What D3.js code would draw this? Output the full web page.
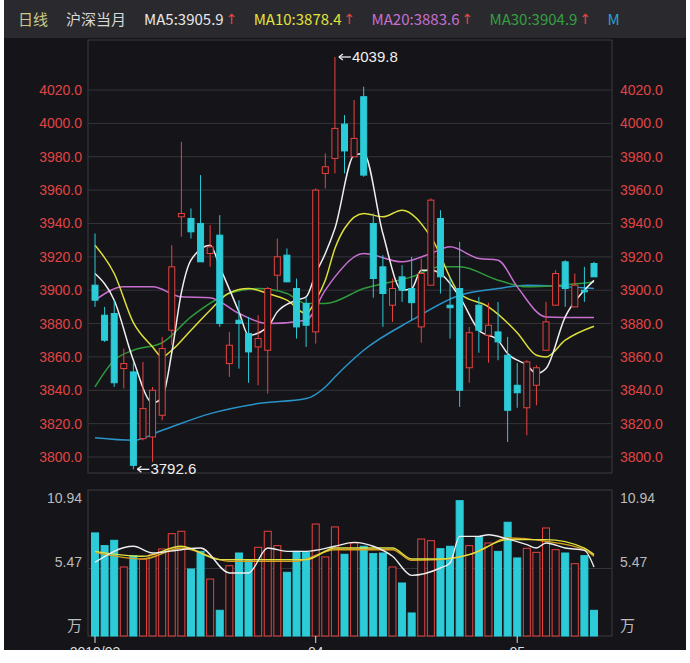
<!DOCTYPE html>
<html><head><meta charset="utf-8">
<script src="https://cdn.jsdelivr.net/npm/d3@7/dist/d3.min.js"></script>
<style>body{margin:0;background:#fff}svg{display:block}</style>
</head><body><svg id="c" width="690" height="663"></svg>
<script>
// OHLC per day
var opens  = [3903,3885,3886,3853,3851,3811,3812,3825,3876,3944,3943,3940,3922,3933,3856,3882,3874,3866,3864,3909,3921,3901,3892,3875,3970,3979,
              3999.6,3980,4016,3940,3914,3891,3908,3901,3878,3903,3943,3891,3901,3853.5,3891,3873,3875,3861,3843,3829.5,3843,3864,3891,3917,3890,3900,3916];
var closes = [3894,3870,3844.5,3856,3795,3829,3840,3865,3914,3946,3935,3917,3926,3880,3867,3880,3863,3871,3901,3920,3905,3878,3879,3960,3974,3997,
              3983.5,3991,3969,3907,3898,3901,3900,3892.5,3910,3954,3908,3889.5,3840,3874.5,3876,3879,3869,3828,3838.5,3857,3853.5,3881,3910,3901,3903,3899,3908];
var highs  = [3934,3890,3894,3865,3857,3857,3842,3872,3927,3989,3949,3969,3939,3945,3875,3894,3884,3885,3902,3931,3925,3907,3896,3961,3982,4039.8,
              4005,4014,4022,3946,3921,3907,3915,3920,3919,3955,3948,3907.5,3929,3878,3896,3892.5,3893,3872,3856.5,3858,3855,3893,3912,3918,3910,3914,3917];
var lows   = [3890,3869,3842,3841,3792.6,3810,3797,3822,3867,3932,3931,3917,3914,3878,3848,3853,3844.5,3843,3838,3899.6,3905,3871,3866,3868,3961,3970,
              3970,3980,3968,3895.5,3878,3881,3893,3882,3868.5,3903,3898,3871,3830,3844.5,3862.5,3856.5,3858,3809,3829.5,3813,3831,3864,3891,3890,3890,3893,3908];
var volumes = [8.27,7.27,7.69,5.59,6.48,6.22,6.56,7.01,8.21,8.40,5.43,6.82,4.64,2.18,5.69,6.69,6.17,7.14,8.40,7.27,5.17,6.82,6.74,8.97,6.38,8.74,
               6.59,7.48,7.22,6.64,6.69,5.59,4.33,1.97,7.79,7.66,7.03,7.22,10.81,7.27,7.95,7.48,6.82,9.11,6.30,7.06,6.74,8.66,6.95,6.69,5.85,6.48,2.18];
// moving average lines as [day, value]
var ma5  = [[1,3910],[3,3894],[5,3858],[7,3832.5],[8,3835.5],[9,3862.5],[10,3898.5],[11,3918],[13,3927],[14,3914],[16,3887],[17,3873],[19,3878],[20,3887],[22,3894],[23,3896],[24,3910],[25,3922],[26,3937],[28,3981],[29,3982],[31,3934],[33,3900],[34,3901],[35,3912],[36,3912],[37,3910],[39,3896],[41,3876],[43,3870],[44,3862],[46,3855],[47,3850],[48,3853],[50,3884],[52,3900],[53,3905.9]];
var ma10 = [[1,3927],[3,3910],[5,3880.5],[7,3866],[8,3860],[9,3864],[11,3876],[13,3888],[15,3898.4],[17,3901],[19,3898],[21,3894],[23,3886],[24,3894],[25,3906],[26,3925],[27,3937],[29,3946],[31,3944],[33,3948],[36,3932],[39,3898],[42,3890],[45,3874.5],[47,3861],[48,3860],[50,3870],[53,3878.4]];
var ma20 = [[1,3894],[4,3902],[7,3902],[10,3896],[13,3895.5],[16,3886],[19,3880],[23,3882],[25,3900],[26,3908],[29,3922],[33,3917],[36,3922],[38,3926],[41,3919],[43,3918],[45,3902],[48,3884],[53,3883.6]];
var ma30 = [[1,3842],[3,3858],[5,3864],[8,3868.5],[11,3884],[15,3898],[18,3901],[21,3898],[23,3892],[25,3892],[29,3901],[34,3908],[37,3914],[39,3914],[43,3906],[46,3902],[53,3904.9]];
var ma60 = [[1,3811.5],[5,3810],[8,3816],[13,3826],[18,3832],[23,3835],[25,3842],[26,3848],[29,3864],[34,3882],[39,3897],[43,3901],[46,3903],[53,3901]];
var vma1 = [[1,5.96],[5,7.22],[7,6.69],[10,6.95],[12,7.08],[15,5.12],[17,5.12],[19,7.08],[21,6.82],[23,6.82],[26,7.22],[28,7.53],[30,7.22],[32,6.43],[34,4.93],[37,5.51],[38,5.9],[39,8.0],[41,8.0],[42,8.13],[44,7.79],[46,7.35],[47,7.08],[48,7.48],[50,7.08],[52,6.9],[53,5.59]];
var vma2 = [[1,6.82],[6,6.43],[10,7.22],[14,6.17],[23,6.17],[26,7.08],[32,7.08],[34,6.22],[37,6.22],[40,6.56],[44,7.74],[48,7.74],[52,7.08],[53,6.56]];
var vma3 = [[1,6.74],[6,6.22],[10,7.08],[15,6.04],[22,6.04],[26,6.95],[32,6.95],[34,6.11],[37,6.17],[41,6.82],[44,7.87],[48,7.61],[52,6.95],[53,6.43]];
var priceTicks = [3800,3820,3840,3860,3880,3900,3920,3940,3960,3980,4000,4020];
var volTicks = [10.94,5.47];
var dateTicks = [[1,"2019/03"],[24,"04"],[45,"05"]];
var legend = [["日线","#c9c98a"],["沪深当月","#d8d8d8"],["MA5:3905.9","#e8e8e8",1],["MA10:3878.4","#e3e33a",1],["MA20:3883.6","#c86fd0",1],["MA30:3904.9","#33a040",1],["M","#2aa0d8"]];

var UP="#e8433f", DOWN="#2ccbd8";
var svg=d3.select("#c");
svg.append("rect").attr("x",4).attr("y",0).attr("width",682).attr("height",650).attr("fill","#17171c");
svg.append("rect").attr("x",4).attr("y",0).attr("width",682).attr("height",38).attr("fill","#2a2a2e");
svg.append("rect").attr("x",4).attr("y",38).attr("width",682).attr("height",612).attr("fill","#141419");

// header legend
var lx=18;
legend.forEach(function(d){
  var t=svg.append("text").attr("x",lx).attr("y",25).attr("fill",d[1])
    .attr("font-family","Noto Sans CJK SC, sans-serif").attr("font-size",15).text(d[0]);
  lx+=t.node().getComputedTextLength();
  if(d[2]){ svg.append("text").attr("x",lx+2).attr("y",24).attr("fill",UP).attr("font-size",14).attr("font-family","DejaVu Sans").text("↑"); lx+=12; }
  lx+=18;
});

var x=d3.scaleLinear().domain([1,53]).range([95,594]);
var y=d3.scaleLinear().domain([3790.4,4050]).range([473,40]);
var yv=d3.scaleLinear().domain([0,10.94]).range([638,499]);
var L=88,R=612,VB=636;

function panel(top,bot){
  svg.append("rect").attr("x",L).attr("y",top).attr("width",R-L).attr("height",bot-top)
    .attr("fill","none").attr("stroke","#3a3a40");
}
panel(40,473); panel(490,VB);

svg.append("g").selectAll("line").data(priceTicks).join("line")
  .attr("x1",L).attr("x2",R).attr("y1",function(d){return y(d)}).attr("y2",function(d){return y(d)})
  .attr("stroke","#34343a");
[["end",82],["start",620]].forEach(function(s){
  svg.append("g").selectAll("text").data(priceTicks).join("text")
    .attr("x",s[1]).attr("y",function(d){return y(d)+5}).attr("text-anchor",s[0])
    .attr("fill","#e04545").attr("font-size",14).attr("font-family","Liberation Sans, sans-serif")
    .text(function(d){return d.toFixed(1)});
  svg.append("g").selectAll("text").data(volTicks).join("text")
    .attr("x",s[1]).attr("y",function(d){return d>10?503:567}).attr("text-anchor",s[0])
    .attr("fill","#bbbbbb").attr("font-size",14).attr("font-family","Liberation Sans, sans-serif")
    .text(function(d){return d.toFixed(2)});
  svg.append("text").attr("x",s[1]).attr("y",631).attr("text-anchor",s[0]).attr("fill","#bbbbbb")
    .attr("font-size",15).attr("font-family","Noto Sans CJK SC").text("万");
});
svg.append("line").attr("x1",L).attr("x2",R).attr("y1",yv(5.47)).attr("y2",yv(5.47)).attr("stroke","#34343a");

// moving averages
var line=d3.line().x(function(d){return x(d[0])}).y(function(d){return y(d[1])}).curve(d3.curveMonotoneX);
[[ma60,"#2a94c8"],[ma30,"#2f9a3c"],[ma20,"#c86fd0"],[ma10,"#dede3a"],[ma5,"#eeeeee"]].forEach(function(m){
  svg.append("path").attr("d",line(m[0])).attr("fill","none").attr("stroke",m[1]).attr("stroke-width",1.5);
});

// candles
var days=d3.range(53);
var cw=6;
var g=svg.append("g").selectAll("g").data(days).join("g");
g.append("line").attr("x1",function(i){return x(i+1)}).attr("x2",function(i){return x(i+1)})
  .attr("y1",function(i){return y(highs[i])}).attr("y2",function(i){return y(lows[i])})
  .attr("stroke",function(i){return closes[i]>=opens[i]?UP:DOWN});
g.append("rect").attr("x",function(i){return x(i+1)-cw/2}).attr("width",cw)
  .attr("y",function(i){return y(Math.max(opens[i],closes[i]))})
  .attr("height",function(i){return Math.max(1,Math.abs(y(opens[i])-y(closes[i])))})
  .attr("fill",function(i){return closes[i]>=opens[i]?"#141419":DOWN})
  .attr("stroke",function(i){return closes[i]>=opens[i]?UP:DOWN});

function mark(day,val,txt){
  var g=svg.append("g").attr("transform","translate("+(x(day)+3)+","+y(val)+")");
  g.append("line").attr("x1",1).attr("x2",13).attr("stroke","#f0f0f0").attr("stroke-width",1.3);
  g.append("path").attr("d","M1,0 L5,-3 M1,0 L5,3").attr("stroke","#f0f0f0").attr("stroke-width",1.3).attr("fill","none");
  g.append("text").attr("x",14).attr("y",5).attr("fill","#f0f0f0").attr("font-size",15)
    .attr("font-family","Liberation Sans, sans-serif").text(txt);
}
mark(26,4039.8,"4039.8");
mark(5,3792.6,"3792.6");

// volume
var bw=7;
svg.append("g").selectAll("rect").data(days).join("rect")
  .attr("x",function(i){return x(i+1)-bw/2}).attr("width",bw)
  .attr("y",function(i){return yv(volumes[i])}).attr("height",function(i){return VB-yv(volumes[i])})
  .attr("fill",function(i){return closes[i]>=opens[i]?"#141419":DOWN})
  .attr("stroke",function(i){return closes[i]>=opens[i]?UP:DOWN});
var vline=d3.line().x(function(d){return x(d[0])}).y(function(d){return yv(d[1])}).curve(d3.curveMonotoneX);
[[vma3,"#d8a020"],[vma2,"#e0e040"],[vma1,"#eeeeee"]].forEach(function(m){
  svg.append("path").attr("d",vline(m[0])).attr("fill","none").attr("stroke",m[1]).attr("stroke-width",1.4);
});

// date ticks
dateTicks.forEach(function(d){
  svg.append("line").attr("x1",x(d[0])).attr("x2",x(d[0])).attr("y1",VB).attr("y2",643).attr("stroke","#ddd");
  svg.append("text").attr("x",x(d[0])).attr("y",657).attr("text-anchor","middle").attr("fill","#ddd")
    .attr("font-size",14).attr("font-family","Liberation Sans, sans-serif").text(d[1]);
});
svg.append("rect").attr("x",0).attr("y",650).attr("width",690).attr("height",13).attr("fill","#fff").attr("opacity",0.85);
</script></body></html>
